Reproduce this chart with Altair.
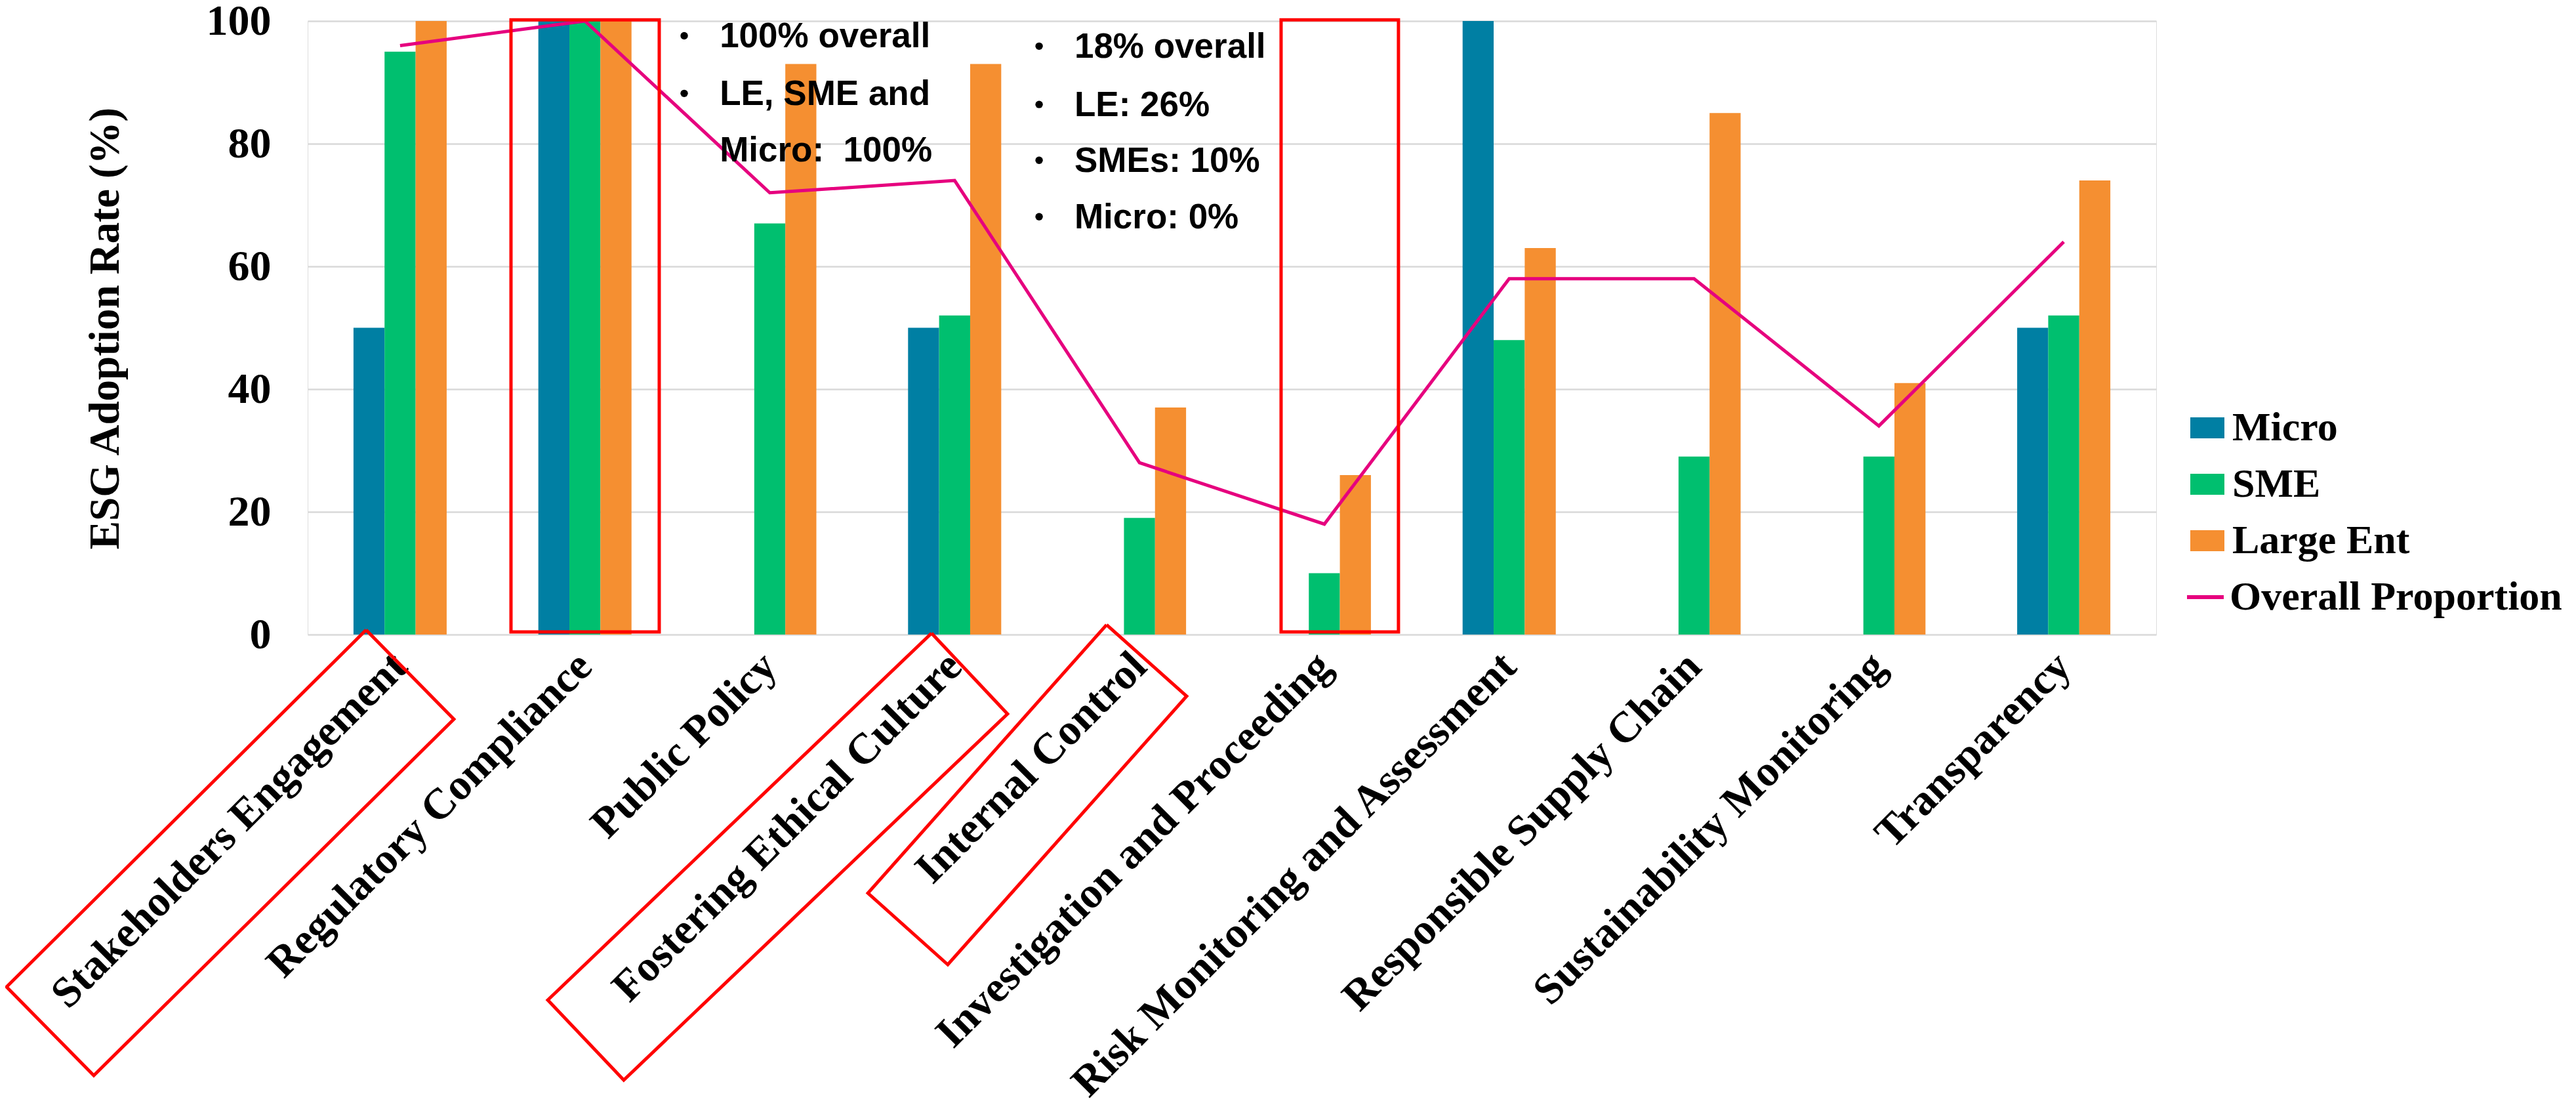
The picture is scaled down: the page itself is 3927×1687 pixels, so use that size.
import altair as alt
import pandas as pd

# ---------------- data ----------------
categories = [
    "Stakeholders Engagement", "Regulatory Compliance", "Public Policy",
    "Fostering Ethical Culture", "Internal Control", "Investigation and Proceeding",
    "Risk Monitoring and Assessment", "Responsible Supply Chain",
    "Sustainability Monitoring", "Transparency",
]
micro = [50, 100, 0, 50, 0, 0, 100, 0, 0, 50]
sme = [95, 100, 67, 52, 19, 10, 48, 29, 29, 52]
large_ent = [100, 100, 93, 93, 37, 26, 63, 85, 41, 74]
overall = [96, 100, 72, 74, 28, 18, 58, 58, 34, 64]

series_names = ["Micro", "SME", "Large Ent"]
series_colors = ["#007FA3", "#00BF6F", "#F58F31"]
line_name = "Overall Proportion"
line_color = "#E6007E"
y_ticks = [0, 20, 40, 60, 80, 100]

# annotation notes (x in category-index units 0..10, y in % units)
note1_lines = ["100% overall", "LE, SME and", "Micro:\u00a0\u00a0100%"]
note1_y = [95.7, 86.3, 77.1]
note1_bullet = [True, True, False]
note2_lines = ["18% overall", "LE: 26%", "SMEs: 10%", "Micro: 0%"]
note2_y = [94.0, 84.5, 75.4, 66.2]
note1_x, note1_bx = 2.229, 2.037
note2_x, note2_bx = 4.148, 3.957

# highlighted groups (red boxes around bar groups)
group_box_x = [1.100, 5.266]
group_box_x2 = [1.902, 5.901]
group_box_y = [0.43, 0.43]
group_box_y2 = [100.2, 100.2]

# highlighted labels (red rotated boxes)
box_names = ["Stakeholders Engagement", "Fostering Ethical Culture", "Internal Control"]
box_xs = [
    [0.316, 0.791, -1.157, -1.629],
    [3.375, 3.786, 1.710, 1.299],
    [4.322, 4.755, 3.463, 3.031],
]
box_ys = [
    [0.75, -13.80, -71.87, -57.43],
    [0.21, -12.94, -72.62, -59.57],
    [1.60, -10.05, -53.80, -42.14],
]

# ---------------- tables ----------------
bar_rows = []
for i, c in enumerate(categories):
    for s, vals in zip(series_names, [micro, sme, large_ent]):
        bar_rows.append({"category": c, "series": s, "value": vals[i]})
bar_df = pd.DataFrame(bar_rows)
line_df = pd.DataFrame({"category": categories, "value": overall, "series": line_name})

text_rows = []
for t, y in zip(note1_lines, note1_y):
    text_rows.append({"ax": note1_x, "ay": y, "text": t})
for t, y in zip(note2_lines, note2_y):
    text_rows.append({"ax": note2_x, "ay": y, "text": t})
text_df = pd.DataFrame(text_rows)

bullet_rows = []
for b, y in zip(note1_bullet, note1_y):
    if b:
        bullet_rows.append({"ax": note1_bx, "ay": y + 1.9})
for y in note2_y:
    bullet_rows.append({"ax": note2_bx, "ay": y + 1.9})
bullet_df = pd.DataFrame(bullet_rows)

gbox_df = pd.DataFrame({"ax": group_box_x, "ax2": group_box_x2,
                        "ay": group_box_y, "ay2": group_box_y2})

poly_rows = []
for name, xs, ys in zip(box_names, box_xs, box_ys):
    pts = list(zip(xs, ys)) + [(xs[0], ys[0])]
    for k, (px, py) in enumerate(pts):
        poly_rows.append({"box": name, "ord": k, "ax": px, "ay": py})
poly_df = pd.DataFrame(poly_rows)

# ---------------- encodings ----------------
serif = "Liberation Serif"
sans = "Liberation Sans"

x_enc = alt.X(
    "category:N", sort=categories,
    scale=alt.Scale(paddingInner=0.496, paddingOuter=0.248),
    axis=alt.Axis(
        title=None, labelAngle=-45, labelAlign="right", labelBaseline="middle",
        labelFont=serif, labelFontWeight="bold", labelFontSize=66, labelColor="black",
        labelPadding=38, labelLimit=3000, labelOverlap=False, domain=False, ticks=False,
        grid=False,
    ),
)
y_enc = alt.Y(
    "value:Q", scale=alt.Scale(domain=[0, 100], nice=False),
    axis=alt.Axis(
        values=y_ticks, title="ESG Adoption Rate (%)", titleFont=serif, titleFontSize=65,
        titleFontWeight="bold", titleColor="black", titleX=-289, titleY=468,
        titleAngle=270, titleAlign="center", titleBaseline="alphabetic",
        labelFont=serif, labelFontSize=66, labelFontWeight="bold", labelColor="black",
        labelPadding=56, domain=False, ticks=False, grid=True, gridColor="#D9D9D9",
        gridWidth=2.5,
    ),
)

bars = alt.Chart(bar_df).mark_bar().encode(
    x=x_enc,
    xOffset=alt.XOffset("series:N", sort=series_names, scale=alt.Scale(paddingInner=0)),
    y=y_enc,
    color=alt.Color(
        "series:N", sort=series_names,
        scale=alt.Scale(domain=series_names, range=series_colors),
        legend=alt.Legend(
            orient="none", legendX=2865, legendY=589, title=None,
            symbolType="M-1,-0.615H1V0.615H-1Z", symbolSize=2704, symbolStrokeWidth=0,
            labelFont=serif, labelFontSize=62, labelFontWeight="bold", labelColor="black",
            rowPadding=24, labelOffset=7, padding=0, labelLimit=2000,
        ),
    ),
)

line = alt.Chart(line_df).mark_line(strokeWidth=5).encode(
    x=x_enc,
    y=y_enc,
    stroke=alt.Stroke(
        "series:N",
        scale=alt.Scale(domain=[line_name], range=[line_color]),
        legend=alt.Legend(
            orient="none", legendX=2862, legendY=847, title=None,
            symbolType="stroke", symbolSize=3136, symbolStrokeWidth=6,
            labelFont=serif, labelFontSize=62, labelFontWeight="bold", labelColor="black",
            labelOffset=6, padding=0, labelLimit=2000,
        ),
    ),
)

ax_x = alt.X("ax:Q", scale=alt.Scale(domain=[0, 10], nice=False, zero=False), axis=None)
ax_y = alt.Y("ay:Q", scale=alt.Scale(domain=[0, 100], nice=False, zero=False), axis=None)

gboxes = alt.Chart(gbox_df).mark_rect(
    fill="white", fillOpacity=0, stroke="#FF0000", strokeWidth=5
).encode(x=ax_x, x2="ax2:Q", y=ax_y, y2="ay2:Q")

polys = alt.Chart(poly_df).mark_line(
    stroke="#FF0000", strokeWidth=5, strokeJoin="miter"
).encode(x=ax_x, y=ax_y, detail="box:N", order="ord:Q")

notes = alt.Chart(text_df).mark_text(
    font=sans, fontSize=53, fontWeight="bold", align="left", baseline="alphabetic",
    color="black",
).encode(x=ax_x, y=ax_y, text="text:N")

bullets = alt.Chart(bullet_df).mark_circle(size=130, color="black", opacity=1).encode(
    x=ax_x, y=ax_y
)

annotations = alt.layer(gboxes, polys, notes, bullets)
main = alt.layer(bars, line)

chart = alt.layer(main, annotations).resolve_scale(
    x="independent", y="independent", color="independent", stroke="independent"
).properties(
    width=2818, height=935,
    autosize=alt.AutoSizeParams(type="none"),
    padding={"left": 461, "top": 24, "right": 632, "bottom": 712},
).configure_view(stroke=None).configure(background="white")

chart.save("out.html", embed_options={"renderer": "svg", "actions": False})
